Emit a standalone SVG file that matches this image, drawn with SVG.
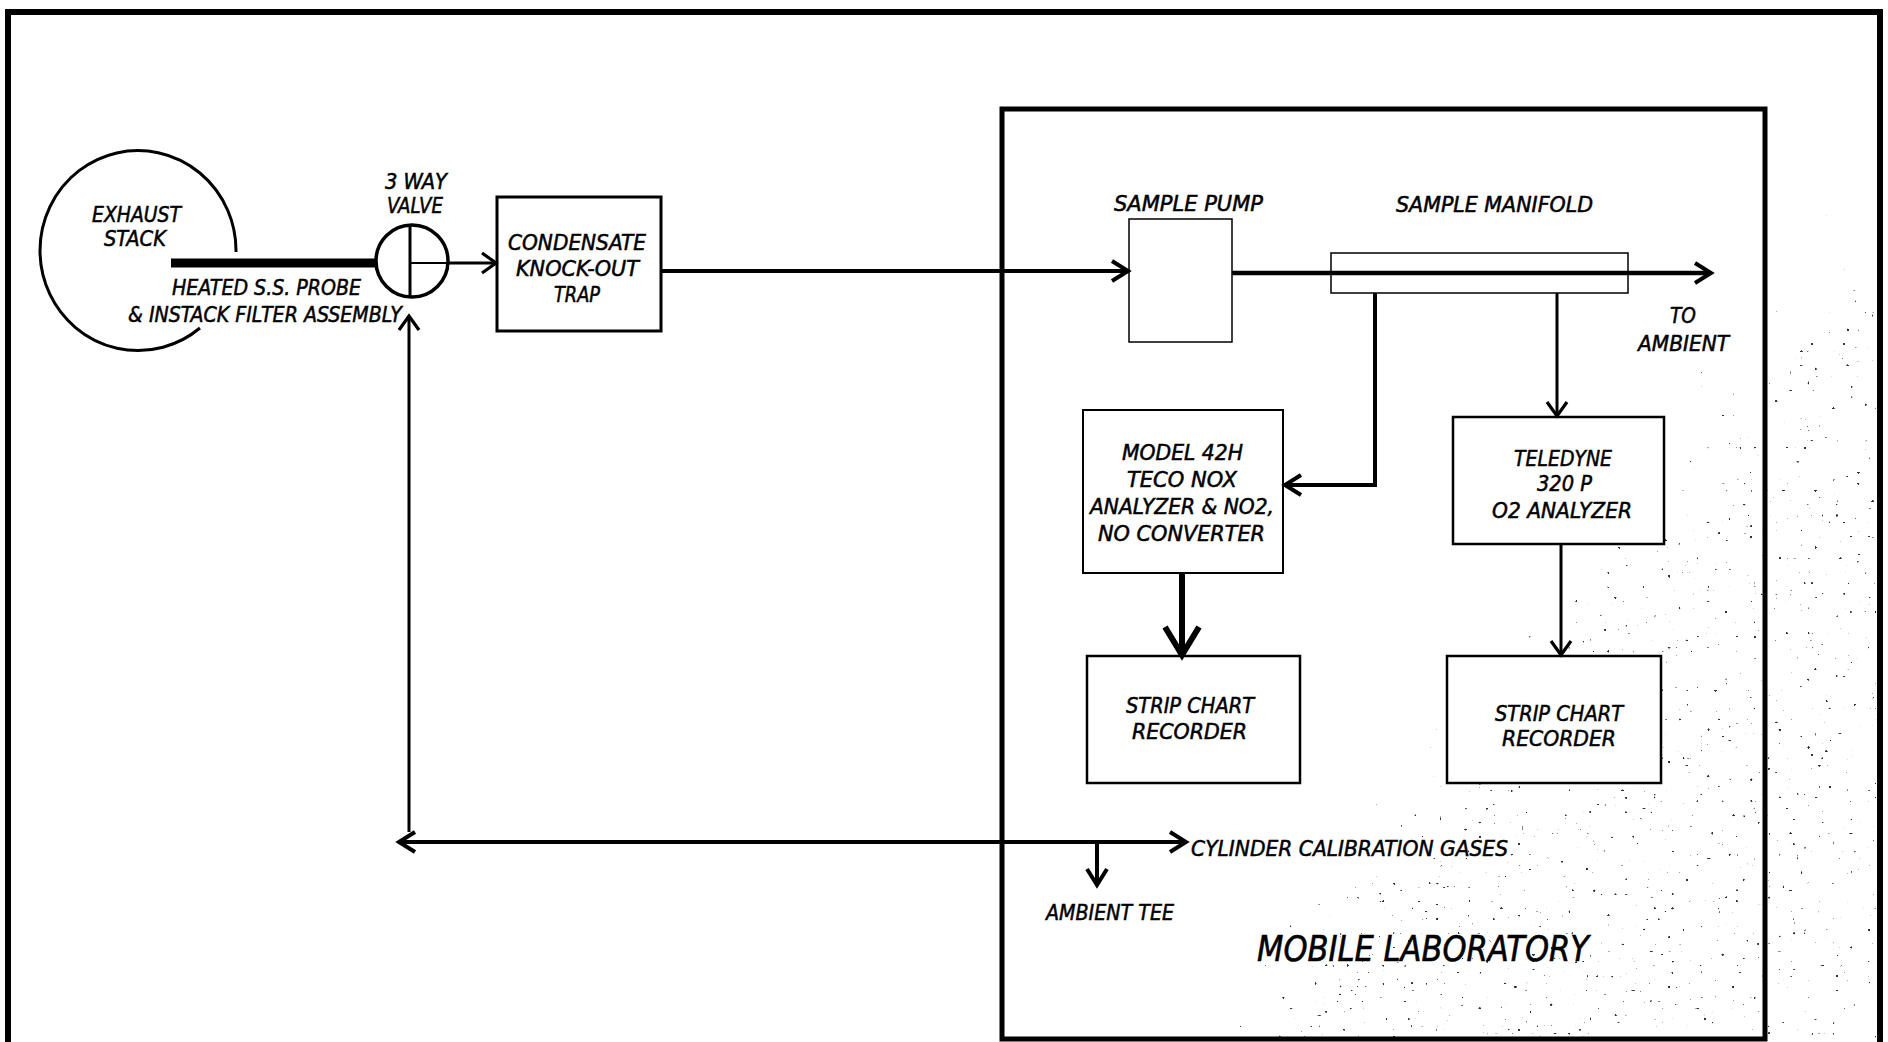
<svg xmlns="http://www.w3.org/2000/svg" width="1888" height="1042" viewBox="0 0 1888 1042">
<style>
  text { font-family: "Liberation Sans Narrow", "DejaVu Sans Condensed", "Liberation Sans", sans-serif; font-style: italic; font-size: 22px; fill: #000; stroke: #000; stroke-width: 0.5px; }
  .big { font-size: 36px; stroke-width: 0.6px; }
  .box { fill: #fff; stroke: #000; }
  .ln { fill: none; stroke: #000; stroke-linecap: butt; stroke-linejoin: miter; }
</style>
<defs>
  <marker id="ah" markerUnits="userSpaceOnUse" markerWidth="30" markerHeight="30" viewBox="-20 -15 30 30" refX="0" refY="0" orient="auto-start-reverse">
    <path d="M-16,-10 L0,0 L-16,10" fill="none" stroke="#000" stroke-width="4"/>
  </marker>
  <marker id="ahs" markerUnits="userSpaceOnUse" markerWidth="30" markerHeight="30" viewBox="-20 -15 30 30" refX="0" refY="0" orient="auto-start-reverse">
    <path d="M-14,-10 L0,0 L-14,10" fill="none" stroke="#000" stroke-width="3.2"/>
  </marker>
  <marker id="ahb" markerUnits="userSpaceOnUse" markerWidth="44" markerHeight="44" viewBox="-34 -22 44 44" refX="0" refY="0" orient="auto">
    <path d="M-28,-17 L0,0 L-28,17" fill="none" stroke="#000" stroke-width="6"/>
  </marker>
  <linearGradient id="dens" gradientUnits="userSpaceOnUse" x1="1390" y1="575" x2="1540" y2="695">
    <stop offset="0" stop-color="#000" stop-opacity="0"/>
    <stop offset="1" stop-color="#000" stop-opacity="1"/>
  </linearGradient>
  <filter id="speck" x="0" y="0" width="1" height="1" color-interpolation-filters="sRGB">
    <feTurbulence type="fractalNoise" baseFrequency="0.28" numOctaves="1" seed="11" result="n"/>
    <feColorMatrix in="n" type="matrix" values="0 0 0 0 0  0 0 0 0 0  0 0 0 0 0  1 0 0 0 0" result="na"/>
    <feComposite in="na" in2="SourceGraphic" operator="arithmetic" k1="0" k2="1" k3="0.235" k4="0" result="c"/>
    <feComponentTransfer in="c">
      <feFuncR type="linear" slope="0" intercept="0"/>
      <feFuncG type="linear" slope="0" intercept="0"/>
      <feFuncB type="linear" slope="0" intercept="0"/>
      <feFuncA type="linear" slope="25" intercept="-24.2"/>
    </feComponentTransfer>
  </filter>
</defs>

<g id="frame">
  <path class="ln" d="M8,1050 V12 H1880 V1050" stroke-width="6"/>
</g>

<g id="speckles">
  <rect x="1010" y="180" width="866" height="860" fill="url(#dens)" filter="url(#speck)"/>
</g>

<g id="mobile-laboratory">
  <rect class="ln" x="1002" y="109" width="763" height="930" stroke-width="5"/>
  <text class="big" x="1257" y="961" textLength="332" lengthAdjust="spacingAndGlyphs">MOBILE LABORATORY</text>
</g>

<g id="exhaust-stack">
  <path class="ln" d="M236,252 A98,100 0 1 0 200,328" stroke-width="3"/>
  <text x="92" y="222" textLength="89" lengthAdjust="spacingAndGlyphs">EXHAUST</text>
  <text x="104" y="246" textLength="62" lengthAdjust="spacingAndGlyphs">STACK</text>
</g>

<g id="probe">
  <line class="ln" x1="171" y1="263" x2="376" y2="263" stroke-width="9"/>
  <text x="172" y="295" textLength="189" lengthAdjust="spacingAndGlyphs">HEATED S.S. PROBE</text>
  <text x="128" y="322" textLength="274" lengthAdjust="spacingAndGlyphs">&amp; INSTACK FILTER ASSEMBLY</text>
</g>

<g id="three-way-valve">
  <circle class="ln" cx="412" cy="261" r="36" stroke-width="3.5"/>
  <line class="ln" x1="410" y1="225" x2="410" y2="297" stroke-width="3"/>
  <line class="ln" x1="410" y1="263" x2="448" y2="263" stroke-width="2"/>
  <text x="385" y="189" textLength="62" lengthAdjust="spacingAndGlyphs">3 WAY</text>
  <text x="387" y="213" textLength="56" lengthAdjust="spacingAndGlyphs">VALVE</text>
</g>

<g id="condensate-trap">
  <rect class="box" x="497" y="197" width="164" height="134" stroke-width="3"/>
  <text x="508" y="250" textLength="138" lengthAdjust="spacingAndGlyphs">CONDENSATE</text>
  <text x="516" y="276" textLength="123" lengthAdjust="spacingAndGlyphs">KNOCK-OUT</text>
  <text x="554" y="302" textLength="46" lengthAdjust="spacingAndGlyphs">TRAP</text>
</g>

<g id="sample-pump">
  <rect class="box" x="1129" y="219" width="103" height="123" stroke-width="1.5"/>
  <text x="1114" y="211" textLength="149" lengthAdjust="spacingAndGlyphs">SAMPLE PUMP</text>
</g>

<g id="sample-manifold">
  <rect class="box" x="1331" y="253" width="297" height="40" stroke-width="1.5"/>
  <text x="1396" y="212" textLength="197" lengthAdjust="spacingAndGlyphs">SAMPLE MANIFOLD</text>
</g>

<g id="to-ambient">
  <text x="1670" y="323" textLength="26" lengthAdjust="spacingAndGlyphs">TO</text>
  <text x="1638" y="351" textLength="91" lengthAdjust="spacingAndGlyphs">AMBIENT</text>
</g>

<g id="nox-analyzer">
  <rect class="box" x="1083" y="410" width="200" height="163" stroke-width="2"/>
  <text x="1122" y="460" textLength="121" lengthAdjust="spacingAndGlyphs">MODEL 42H</text>
  <text x="1127" y="487" textLength="110" lengthAdjust="spacingAndGlyphs">TECO NOX</text>
  <text x="1090" y="514" textLength="184" lengthAdjust="spacingAndGlyphs">ANALYZER &amp; NO2,</text>
  <text x="1098" y="541" textLength="167" lengthAdjust="spacingAndGlyphs">NO CONVERTER</text>
</g>

<g id="o2-analyzer">
  <rect class="box" x="1453" y="417" width="211" height="127" stroke-width="2.5"/>
  <text x="1514" y="466" textLength="98" lengthAdjust="spacingAndGlyphs">TELEDYNE</text>
  <text x="1537" y="491" textLength="55" lengthAdjust="spacingAndGlyphs">320 P</text>
  <text x="1492" y="518" textLength="140" lengthAdjust="spacingAndGlyphs">O2 ANALYZER</text>
</g>

<g id="strip-chart-1">
  <rect class="box" x="1087" y="656" width="213" height="127" stroke-width="2.5"/>
  <text x="1126" y="713" textLength="128" lengthAdjust="spacingAndGlyphs">STRIP CHART</text>
  <text x="1132" y="739" textLength="115" lengthAdjust="spacingAndGlyphs">RECORDER</text>
</g>

<g id="strip-chart-2">
  <rect class="box" x="1447" y="656" width="214" height="127" stroke-width="2.5"/>
  <text x="1495" y="721" textLength="128" lengthAdjust="spacingAndGlyphs">STRIP CHART</text>
  <text x="1502" y="746" textLength="114" lengthAdjust="spacingAndGlyphs">RECORDER</text>
</g>

<g id="calibration-gases">
  <text x="1191" y="856" textLength="317" lengthAdjust="spacingAndGlyphs">CYLINDER CALIBRATION GASES</text>
</g>

<g id="ambient-tee">
  <text x="1046" y="920" textLength="128" lengthAdjust="spacingAndGlyphs">AMBIENT TEE</text>
</g>

<g id="connectors">
  <line class="ln" x1="448" y1="263" x2="496" y2="263" stroke-width="3" marker-end="url(#ahs)"/>
  <line class="ln" x1="661" y1="271" x2="1128" y2="271" stroke-width="4" marker-end="url(#ah)"/>
  <line class="ln" x1="1232" y1="273" x2="1711" y2="273" stroke-width="4.5" marker-end="url(#ah)"/>
  <path class="ln" d="M1375,293 V485 H1285" stroke-width="4" marker-end="url(#ah)"/>
  <path class="ln" d="M1557,293 V416" stroke-width="3" marker-end="url(#ahs)"/>
  <path class="ln" d="M1182,573 V655" stroke-width="6" marker-end="url(#ahb)"/>
  <path class="ln" d="M1561,544 V655" stroke-width="3" marker-end="url(#ahs)"/>
  <path class="ln" d="M399,842 H1186" stroke-width="4" marker-start="url(#ah)" marker-end="url(#ah)"/>
  <path class="ln" d="M409,832 V316" stroke-width="3" marker-end="url(#ahs)"/>
  <path class="ln" d="M1097,842 V885" stroke-width="4" marker-end="url(#ah)"/>
</g>
</svg>
